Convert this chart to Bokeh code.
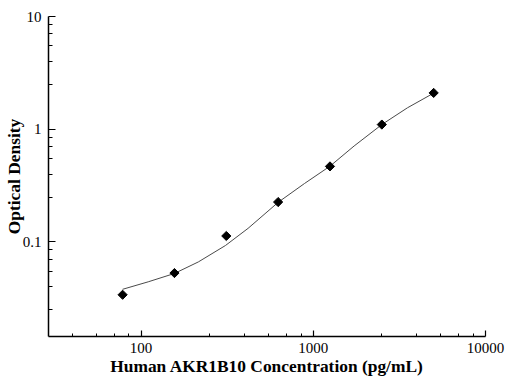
import math
from bokeh.plotting import figure
from bokeh.models import FixedTicker, CustomJSTickFormatter, Range1d, ColumnDataSource
from bokeh.embed import file_html
from bokeh.resources import INLINE

# Standard points
conc = [78.125, 156.25, 312.5, 625, 1250, 2500, 5000]
od = [0.034, 0.053, 0.113, 0.226, 0.468, 1.10, 2.10]

# Fitted curve
curve_x = [78, 110, 156, 215, 309, 418, 626, 889, 1250, 1726, 2500, 3524, 5000]
curve_y = [0.038, 0.0443, 0.0525, 0.0665, 0.093, 0.132, 0.225, 0.33, 0.47, 0.71, 1.10, 1.55, 2.09]

x_major = [100, 1000, 10000]
x_minor = [40, 55, 70, 85, 250, 400, 550, 700, 850, 2500, 4000, 5500, 7000, 8500]
y_major = [0.1, 1, 10]
y_minor = [0.025, 0.04, 0.055, 0.07, 0.085, 0.25, 0.4, 0.55, 0.7, 0.85, 2.5, 4, 5.5, 7, 8.5]

x_title = "Human AKR1B10 Concentration (pg/mL)"
y_title = "Optical Density"

FONT = "Liberation Serif"

p = figure(width=505, height=378, x_axis_type="log", y_axis_type="log",
           x_range=Range1d(29, 10000), y_range=Range1d(0.0145, 10),
           output_backend="svg", toolbar_location=None,
           min_border_left=47, min_border_right=20, min_border_top=16, min_border_bottom=41)

p.outline_line_color = None
p.xgrid.visible = False
p.ygrid.visible = False
p.background_fill_color = "white"
p.border_fill_color = "white"

p.line(curve_x, curve_y, line_color="#4a4a4a", line_width=1)
src = ColumnDataSource(dict(x=conc, y=od))
p.scatter("x", "y", source=src, marker="square", angle=math.pi / 4, size=6.5,
          fill_color="black", line_color="black")

fmt = CustomJSTickFormatter(code="return tick.toString();")

p.xaxis.ticker = FixedTicker(ticks=x_major, minor_ticks=x_minor)
p.yaxis.ticker = FixedTicker(ticks=y_major, minor_ticks=y_minor)
for ax in (p.xaxis[0], p.yaxis[0]):
    ax.formatter = fmt
    ax.axis_line_color = "black"
    ax.axis_line_width = 1.5
    ax.major_tick_line_color = "black"
    ax.minor_tick_line_color = "black"
    ax.major_tick_line_width = 1.2
    ax.minor_tick_line_width = 1
    ax.major_tick_in = 6
    ax.major_tick_out = 0
    ax.minor_tick_in = 3
    ax.minor_tick_out = 0
    ax.major_label_text_font = FONT
    ax.major_label_text_font_size = "15px"
    ax.major_label_text_color = "black"
    ax.axis_label_text_font = FONT
    ax.axis_label_text_font_size = "17.4px"
    ax.axis_label_text_font_style = "bold"
    ax.axis_label_text_color = "black"

p.xaxis.axis_label = x_title
p.yaxis.axis_label = y_title
p.xaxis.major_label_standoff = 6
p.xaxis.axis_label_standoff = 0
p.yaxis.major_label_standoff = 7
p.yaxis.axis_label_standoff = -4
p.yaxis.minor_tick_in = 4
p.yaxis.major_tick_in = 7

open("out.html", "w").write(file_html(p, INLINE))
